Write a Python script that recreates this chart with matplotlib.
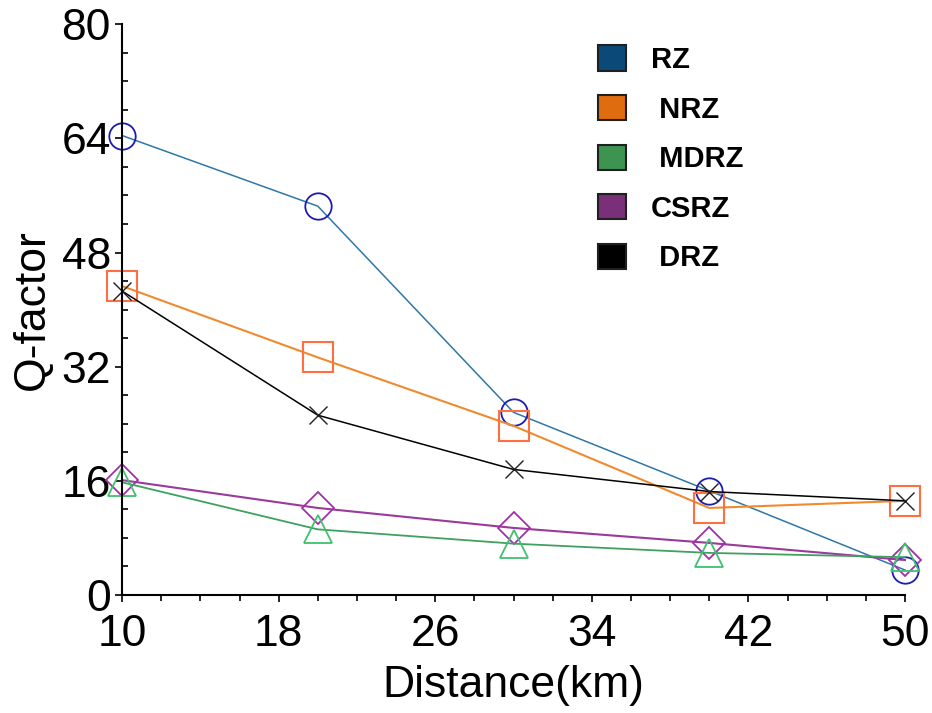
import matplotlib.pyplot as plt
from matplotlib.patches import Patch
from matplotlib.ticker import MultipleLocator

plt.rcParams['font.family'] = ['Liberation Sans', 'DejaVu Sans']

distance = [10, 20, 30, 40, 50]
rz = [64.4, 54.5, 25.6, 14.6, 3.5]
nrz = [43.3, 33.3, 23.7, 12.2, 13.2]
mdrz = [15.8, 9.2, 7.2, 5.9, 5.3]
csrz = [16.1, 12.2, 9.4, 7.3, 4.9]
drz = [42.6, 25.2, 17.6, 14.5, 13.2]

x_ticks = [10, 18, 26, 34, 42, 50]
y_ticks = [0, 16, 32, 48, 64, 80]
legend_labels = ['RZ', ' NRZ', ' MDRZ', 'CSRZ', ' DRZ']
legend_colors = ['#0b4a78', '#e06c10', '#3d9450', '#7a3078', '#000000']

fig = plt.figure(figsize=(9.32, 7.13), dpi=100)
ax = fig.add_axes([0.131, 0.1655, 0.84, 0.8005])

ax.plot(distance, rz, color='#2f77a8', lw=1.1, marker='o', ms=19,
        mfc='none', mec='#1c1cb0', mew=1.3, clip_on=False)
ax.plot(distance, nrz, color='#f08a30', lw=1.5, marker='s', ms=21,
        mfc='none', mec='#ff7040', mew=1.5, clip_on=False)
ax.plot(distance, drz, color='black', lw=1.1, marker='x', ms=13,
        mec='#202020', mew=1.0, clip_on=False)
ax.plot(distance, csrz, color='#9a3a9a', lw=1.5, marker='D', ms=16,
        mfc='none', mec='#a030a8', mew=1.3, clip_on=False)
ax.plot(distance, mdrz, color='#40a060', lw=1.3, marker='^', ms=20,
        mfc='none', mec='#40c070', mew=1.3, clip_on=False)

ax.set_xlim(10, 50)
ax.set_ylim(0, 80)
ax.set_xticks(x_ticks)
ax.set_yticks(y_ticks)
ax.xaxis.set_minor_locator(MultipleLocator(2))
ax.yaxis.set_minor_locator(MultipleLocator(4))
for s in ['top', 'right']:
    ax.spines[s].set_visible(False)
ax.spines['left'].set_linewidth(1.5)
ax.spines['bottom'].set_linewidth(1.5)
ax.tick_params(axis='both', which='major', labelsize=32, length=5, width=1.2)
ax.tick_params(axis='x', which='major', pad=9)
ax.tick_params(axis='y', which='major', pad=3)
ax.tick_params(axis='x', which='minor', direction='out', length=4, width=1.2)
ax.tick_params(axis='y', which='minor', direction='in', length=4, width=1.2)
ax.set_xlabel('Distance(km)', fontsize=32, labelpad=7)
ax.set_ylabel('Q-factor', fontsize=32, labelpad=6)

handles = [Patch(facecolor=c, edgecolor='#202020', lw=1.5) for c in legend_colors]
ax.legend(handles, legend_labels, loc='upper left', bbox_to_anchor=(0.608, 0.963),
          frameon=False, prop={'size': 21, 'weight': 'bold'}, borderpad=0,
          borderaxespad=0, handlelength=0.95, handleheight=0.95,
          labelspacing=0.72, handletextpad=0.85)

fig.savefig('out.png', dpi=100)
